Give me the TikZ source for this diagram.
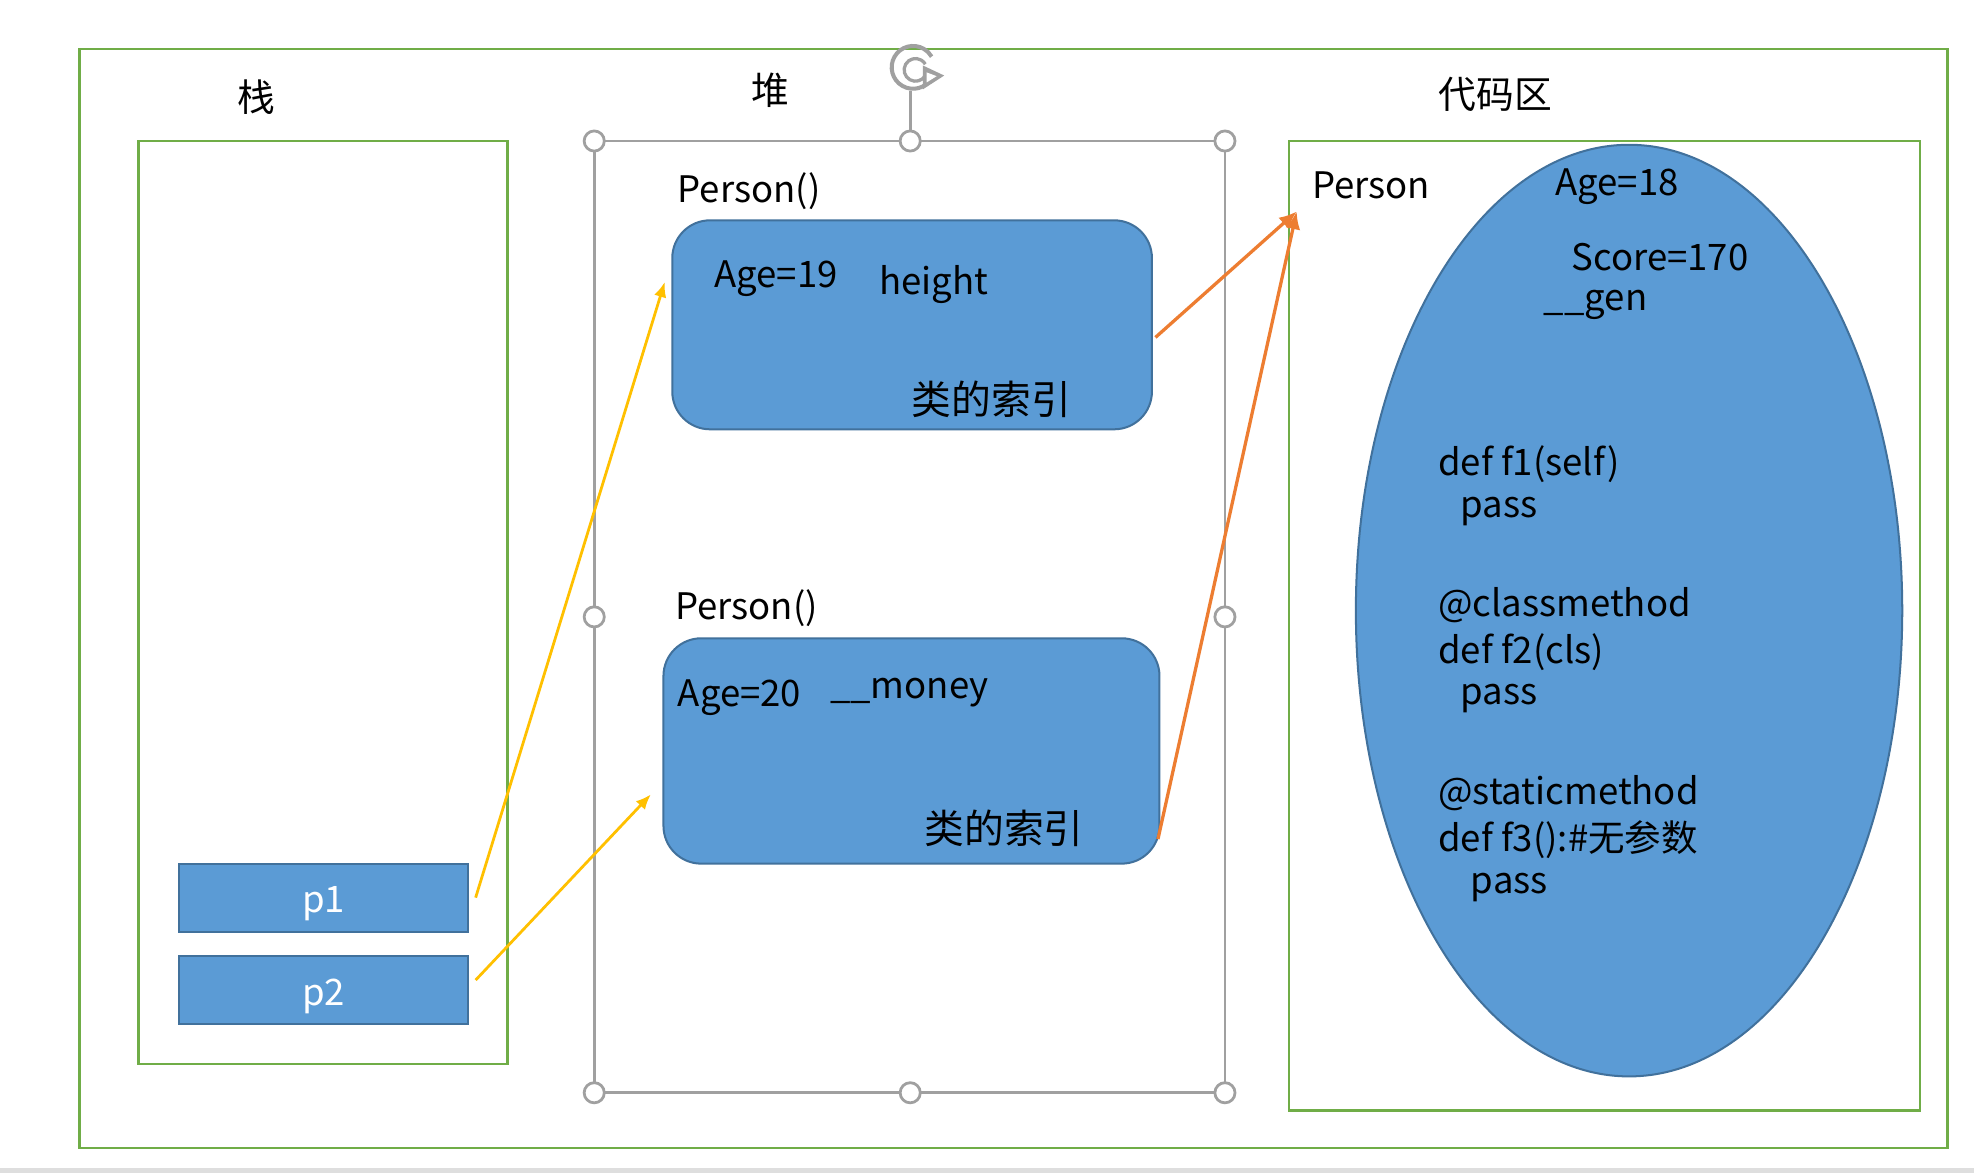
\documentclass[tikz,border=0pt]{standalone}
\usepackage{fontspec}
\setmainfont{Noto Sans CJK SC}
\usetikzlibrary{arrows.meta,shapes.geometric}
\definecolor{grn}{HTML}{70AD47}
\definecolor{blu}{HTML}{5B9BD5}
\definecolor{bludk}{HTML}{41719C}
\definecolor{ylw}{HTML}{FFC000}
\definecolor{org}{HTML}{ED7D31}
\definecolor{sel}{HTML}{A0A0A0}
\newcommand\lowtxt[1]{\raisebox{0pt}[\dimexpr\height+5pt\relax][\depth]{#1}}
\tikzset{
  greenbox/.style={draw=grn, line width=1pt},
  bluebox/.style={draw=bludk, fill=blu, line width=0.8pt},
  txt/.style={anchor=west, inner sep=0pt, yshift=-2pt, font=\fontsize{14.5pt}{16pt}\selectfont},
  cjk/.style={anchor=west, inner sep=0pt, yshift=-1pt, font=\fontsize{15.8pt}{17pt}\selectfont},
  ttl/.style={inner sep=0pt, font=\fontsize{15pt}{17pt}\selectfont},
  handle/.style={circle, draw=sel, fill=white, line width=1.1pt, minimum size=8pt, inner sep=0pt},
  yarrow/.style={draw=ylw, line width=1.1pt, -{Latex[length=6pt,width=5pt]}},
  oarrow/.style={draw=org, line width=1.3pt, -{Latex[length=7pt,width=6pt]}},
  pbox/.style={bluebox, minimum width=115pt, minimum height=27pt, inner sep=0pt, text=white, font=\fontsize{14.5pt}{16pt}\selectfont},
}
\begin{document}
\begin{tikzpicture}[x=0.5pt,y=-0.5pt]
\useasboundingbox (0,0) rectangle (1568,932);
\fill[white] (0,0) rectangle (1568,932);
\fill[black!13] (0,928) rectangle (1568,932);
% outer frame
\draw[greenbox] (63,39) rectangle (1547,912);
% stack
\node[ttl] (tstack) at (204,77) {栈};
\draw[greenbox] (110,112) rectangle (403,845);
\node[pbox] (p1) at (257,713) {\lowtxt{p1}};
\node[pbox] (p2) at (257,786.5) {\lowtxt{p2}};
% heap
\node[ttl] (theap) at (612,72) {堆};
\draw[sel, line width=1.1pt] (472,112) rectangle (973,868);
\coordinate (rtop) at (723,72);
\draw[sel, line width=1.1pt] (723,112) -- (rtop);
\draw[sel, line width=1.6pt] (740,62) arc[start angle=-30, end angle=-330, radius=8.5pt];
\draw[sel, line width=1.3pt] (735,60) arc[start angle=-30, end angle=-330, radius=4.5pt];
\fill[sel] (733,52) -- (750,60) -- (733,71) -- cycle;
\fill[white] (736,57.5) -- (744,60.5) -- (736,65.5) -- cycle;
\foreach \p/\n in {{(472,112)}/h1,{(723,112)}/h2,{(973,112)}/h3,{(472,490)}/h4,{(973,490)}/h5,{(472,868)}/h6,{(723,868)}/h7,{(973,868)}/h8}
  \node[handle] (\n) at \p {};
% object 1
\node[txt] (lp1) at (538,148) {Person()};
\node[bluebox, rounded corners=15pt, minimum width=190.5pt, minimum height=83pt, inner sep=0pt] (obj1) at (724.5,258) {};
\node[txt] (a19) at (567,217) {Age=19};
\node[txt] (ht) at (698,222) {height};
\node[cjk] (ix1) at (724,315) {类的索引};
% object 2
\node[txt] (lp2) at (536,479) {Person()};
\node[bluebox, rounded corners=15pt, minimum width=197pt, minimum height=89.5pt, inner sep=0pt] (obj2) at (724,596.5) {};
\node[txt] (a20) at (538,550) {Age=20};
\node[txt] (mn) at (659,546) {\_\_money};
\node[cjk] (ix2) at (734,656) {类的索引};
% code area
\node[ttl] (tcode) at (1188,75) {代码区};
\draw[greenbox] (1024,112) rectangle (1525,882);
\node[txt] (lperson) at (1042,143) {Person};
\node[draw=bludk, fill=blu, line width=0.8pt, ellipse, minimum width=217pt, minimum height=370pt, inner sep=0pt] (cls) at (1294,485) {};
\coordinate (cls-in) at (1030,168);
\node[txt] (c1) at (1235,144) {Age=18};
\node[txt] (c2) at (1248,200) {Score=170};
\node[txt] (c3) at (1226,238) {\_\_gen};
\node[txt] (c4) at (1142,365) {def f1(self)};
\node[txt] (c5) at (1160,402) {pass};
\node[txt] (c6) at (1142,477) {@classmethod};
\node[txt] (c7) at (1142,514) {def f2(cls)};
\node[txt] (c8) at (1160,551) {pass};
\node[txt] (c9) at (1142,626) {@staticmethod};
\node[txt] (c10) at (1142,663) {def f3():\#无参数};
\node[txt] (c11) at (1168,701) {pass};
% arrows
\coordinate (t1) at (528,224);
\coordinate (t2) at (517,631);
\draw[yarrow] ([xshift=2.5pt]p1.east) -- (t1);
\draw[yarrow] ([xshift=2.5pt,yshift=4pt]p2.east) -- (t2);
\draw[oarrow] ([xshift=1pt,yshift=-5pt]obj1.east) -- (cls-in);
\draw[oarrow] ([xshift=-1pt,yshift=-35pt]obj2.east) -- (cls-in);
\end{tikzpicture}
\end{document}
